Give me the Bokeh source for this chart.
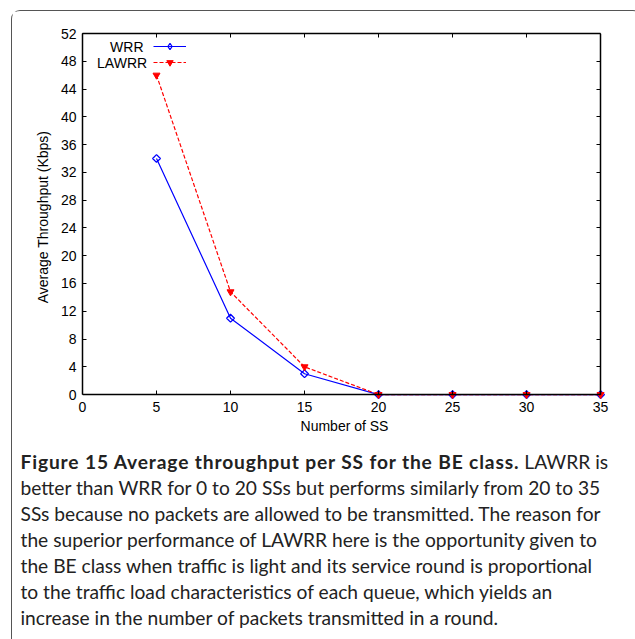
import numpy as np
from bokeh.plotting import figure
from bokeh.models import (Range1d, FixedTicker, LinearAxis, Label, Legend,
                          LegendItem, Div)
from bokeh.layouts import column
from bokeh.embed import file_html
from bokeh.resources import INLINE

# Average throughput (Kbps) per SS for the BE class
num_ss = [5, 10, 15, 20, 25, 30, 35]
wrr = [34, 11, 3, 0, 0, 0, 0]
lawrr = [46, 14.8, 4, 0, 0, 0, 0]

x_ticks = [0, 5, 10, 15, 20, 25, 30, 35]
y_ticks = [0, 4, 8, 12, 16, 20, 24, 28, 32, 36, 40, 44, 48, 52]
x_lim = (0, 35)
y_lim = (0, 52)

series_names = ["WRR", "LAWRR"]
x_label = "Number of SS"
y_label = "Average Throughput (Kbps)"

caption_title = "Figure 15 Average throughput per SS for the BE class."
caption_lines = [
    "LAWRR is",
    "better than WRR for 0 to 20 SSs but performs similarly from 20 to 35",
    "SSs because no packets are allowed to be transmitted. The reason for",
    "the superior performance of LAWRR here is the opportunity given to",
    "the BE class when traffic is light and its service round is proportional",
    "to the traffic load characteristics of each queue, which yields an",
    "increase in the number of packets transmitted in a round.",
]

FONT = "Liberation Sans"
FS = "14px"

# the view extends a few pixels past the bottom and right axes so that the
# markers sitting on them are drawn whole
p = figure(width=619, height=433, output_backend="svg", toolbar_location=None,
           x_range=Range1d(x_lim[0], x_lim[1] + 0.4),
           y_range=Range1d(y_lim[0] - 0.85, y_lim[1]),
           min_border_left=70, min_border_right=25,
           min_border_top=22, min_border_bottom=44)
p.grid.visible = False
p.outline_line_color = None
p.background_fill_color = "white"
p.border_fill_color = "white"


def style_axis(ax, show_labels=True):
    ax.axis_line_color = "black"
    ax.axis_line_width = 1.5
    ax.major_tick_in = 4
    ax.major_tick_out = 0
    ax.major_tick_line_color = "black"
    ax.major_tick_line_width = 1
    ax.minor_tick_line_color = None
    ax.major_label_text_font = FONT
    ax.major_label_text_font_size = FS
    ax.major_label_text_color = "black"
    ax.axis_label_text_font = FONT
    ax.axis_label_text_font_size = FS
    ax.axis_label_text_font_style = "normal"
    ax.axis_label_text_color = "black"
    if not show_labels:
        ax.major_label_text_color = None
        ax.major_label_text_font_size = "1px"
        ax.major_label_standoff = 0


# bottom: tick labels and title on the regular axis, line and ticks on y = 0
xax = p.xaxis[0]
xax.ticker = FixedTicker(ticks=x_ticks)
xax.axis_label = x_label
style_axis(xax)
xax.axis_line_color = None
xax.major_tick_line_color = None
xax.major_label_standoff = 1
xax.axis_label_standoff = 3

x_base = LinearAxis(ticker=FixedTicker(ticks=x_ticks), bounds=x_lim,
                    fixed_location=y_lim[0])
style_axis(x_base, show_labels=False)
p.add_layout(x_base, "below")

yax = p.yaxis[0]
yax.ticker = FixedTicker(ticks=y_ticks)
yax.axis_label = y_label
style_axis(yax)
yax.bounds = y_lim
yax.major_label_standoff = 6
yax.axis_label_standoff = 7

top_ax = LinearAxis(ticker=FixedTicker(ticks=x_ticks), bounds=x_lim)
right_ax = LinearAxis(ticker=FixedTicker(ticks=y_ticks), bounds=y_lim,
                      fixed_location=x_lim[1])
style_axis(top_ax, show_labels=False)
style_axis(right_ax, show_labels=False)
p.add_layout(top_ax, "above")
p.add_layout(right_ax, "right")

# WRR: solid blue with open diamonds
wrr_line = p.line(num_ss, wrr, line_color="#0000ff", line_width=1.2)
wrr_pts = p.scatter(num_ss, wrr, marker="square", angle=np.pi / 4, size=5.5,
                    fill_color=None, line_color="#0000ff", line_width=1.3)
# zero-size diamonds: nothing in the plot, the key draws them at its own size
wrr_key = p.scatter(num_ss, wrr, marker="diamond", size=0, fill_color=None,
                    line_color="#0000ff", line_width=1.2)

# LAWRR: dashed red with filled inverted triangles
lawrr_line = p.line(num_ss, lawrr, line_color="#ff0000", line_width=1.2,
                    line_dash="4 2")
lawrr_pts = p.scatter(num_ss, lawrr, marker="inverted_triangle", size=7,
                      fill_color="#ff0000", line_color="#ff0000")

# key samples only; the key texts are drawn to their left
legend = Legend(items=[LegendItem(label=series_names[0], renderers=[wrr_line, wrr_key]),
                       LegendItem(label=series_names[1], renderers=[lawrr_line, lawrr_pts])],
                location=(70.6, 329.6), glyph_width=33, glyph_height=16,
                label_height=16, label_standoff=0, spacing=0,
                padding=0, margin=0, border_line_color=None,
                background_fill_alpha=0, label_text_alpha=0,
                label_text_font=FONT, label_text_font_size="10px")
p.add_layout(legend, "center")

for name, lx, ly in [(series_names[0], 61, 353.6), (series_names[1], 64.6, 337.6)]:
    p.add_layout(Label(x=lx, y=ly, x_units="screen", y_units="screen", text=name,
                       text_align="right", text_baseline="middle",
                       text_font=FONT, text_font_size=FS, text_color="black"))

caption_html = ('<b style="letter-spacing:0.85px">' + caption_title + "</b> "
                + caption_lines[0] + "<br>" + "<br>".join(caption_lines[1:]))
caption = Div(text=caption_html, width=619, height=200,
              styles={"font-family": "Lato", "font-size": "19.2px",
                      "line-height": "26px", "white-space": "nowrap",
                      "padding-left": "3.5px", "color": "#222",
                      "box-sizing": "border-box"})

layout = column(p, caption, spacing=0, margin=(10, 0, 0, 11),
                styles={"border": "1.5px solid #555", "border-bottom": "none",
                        "border-radius": "9px 9px 0 0"})

open("out.html", "w").write(file_html(layout, INLINE))
